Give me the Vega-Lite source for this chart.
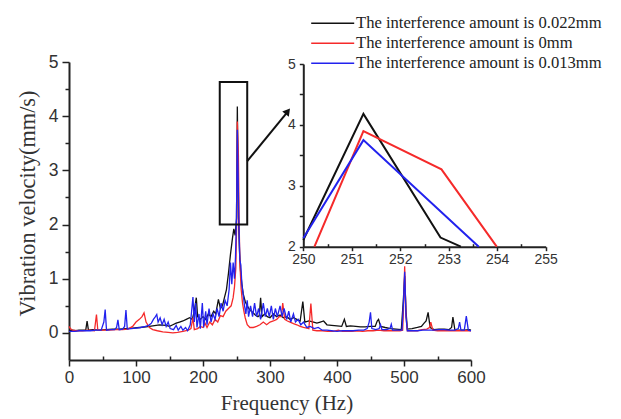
{
  "$schema": "https://vega.github.io/schema/vega-lite/v6.json",
  "width": 480,
  "height": 298,
  "autosize": {"type": "none"},
  "padding": {"left": 69, "top": 62, "right": 72, "bottom": 59},
  "background": "white",
  "config": {
    "view": {"stroke": null},
    "axis": {"domainColor": "#222", "domainWidth": 2, "tickColor": "#222", "tickWidth": 1.5, "labelColor": "#333", "labelFont": "Liberation Sans", "titleFont": "Liberation Serif", "titleColor": "#333", "titleFontWeight": "normal", "grid": false, "labelOverlap": false, "labelFlush": false}
  },
  "datasets": {
    "main": [
      {"s":"0.022mm","f":0,"v":0.04},{"s":"0.022mm","f":5,"v":0.05},{"s":"0.022mm","f":10,"v":0.04},{"s":"0.022mm","f":15,"v":0.05},{"s":"0.022mm","f":20,"v":0.05},{"s":"0.022mm","f":25,"v":0.05},{"s":"0.022mm","f":27,"v":0.22},{"s":"0.022mm","f":29,"v":0.05},{"s":"0.022mm","f":35,"v":0.06},{"s":"0.022mm","f":45,"v":0.05},{"s":"0.022mm","f":55,"v":0.06},{"s":"0.022mm","f":65,"v":0.07},{"s":"0.022mm","f":75,"v":0.07},{"s":"0.022mm","f":85,"v":0.08},{"s":"0.022mm","f":95,"v":0.09},{"s":"0.022mm","f":105,"v":0.1},{"s":"0.022mm","f":115,"v":0.11},{"s":"0.022mm","f":125,"v":0.13},{"s":"0.022mm","f":135,"v":0.15},{"s":"0.022mm","f":145,"v":0.14},{"s":"0.022mm","f":150,"v":0.12},{"s":"0.022mm","f":155,"v":0.15},{"s":"0.022mm","f":160,"v":0.18},{"s":"0.022mm","f":165,"v":0.2},{"s":"0.022mm","f":170,"v":0.22},{"s":"0.022mm","f":175,"v":0.25},{"s":"0.022mm","f":180,"v":0.28},{"s":"0.022mm","f":184,"v":0.25},{"s":"0.022mm","f":187,"v":0.4},{"s":"0.022mm","f":190,"v":0.65},{"s":"0.022mm","f":192,"v":0.3},{"s":"0.022mm","f":196,"v":0.25},{"s":"0.022mm","f":200,"v":0.3},{"s":"0.022mm","f":204,"v":0.25},{"s":"0.022mm","f":208,"v":0.35},{"s":"0.022mm","f":212,"v":0.3},{"s":"0.022mm","f":216,"v":0.4},{"s":"0.022mm","f":219,"v":0.35},{"s":"0.022mm","f":223,"v":0.62},{"s":"0.022mm","f":226,"v":0.45},{"s":"0.022mm","f":229,"v":0.5},{"s":"0.022mm","f":232,"v":0.65},{"s":"0.022mm","f":235,"v":0.8},{"s":"0.022mm","f":238,"v":1.1},{"s":"0.022mm","f":241,"v":1.45},{"s":"0.022mm","f":244,"v":1.75},{"s":"0.022mm","f":246,"v":1.92},{"s":"0.022mm","f":248,"v":1.8},{"s":"0.022mm","f":250,"v":2.11},{"s":"0.022mm","f":251.24,"v":4.18},{"s":"0.022mm","f":252.83,"v":2.15},{"s":"0.022mm","f":253.25,"v":2.0},{"s":"0.022mm","f":254.5,"v":1.5},{"s":"0.022mm","f":256,"v":1.15},{"s":"0.022mm","f":258,"v":0.9},{"s":"0.022mm","f":260,"v":0.72},{"s":"0.022mm","f":263,"v":0.58},{"s":"0.022mm","f":266,"v":0.5},{"s":"0.022mm","f":270,"v":0.42},{"s":"0.022mm","f":274,"v":0.38},{"s":"0.022mm","f":278,"v":0.33},{"s":"0.022mm","f":282,"v":0.3},{"s":"0.022mm","f":284,"v":0.32},{"s":"0.022mm","f":286,"v":0.65},{"s":"0.022mm","f":288,"v":0.3},{"s":"0.022mm","f":292,"v":0.35},{"s":"0.022mm","f":296,"v":0.3},{"s":"0.022mm","f":300,"v":0.28},{"s":"0.022mm","f":305,"v":0.35},{"s":"0.022mm","f":310,"v":0.3},{"s":"0.022mm","f":315,"v":0.33},{"s":"0.022mm","f":320,"v":0.28},{"s":"0.022mm","f":325,"v":0.3},{"s":"0.022mm","f":330,"v":0.25},{"s":"0.022mm","f":335,"v":0.28},{"s":"0.022mm","f":340,"v":0.25},{"s":"0.022mm","f":345,"v":0.22},{"s":"0.022mm","f":349,"v":0.58},{"s":"0.022mm","f":352,"v":0.2},{"s":"0.022mm","f":358,"v":0.22},{"s":"0.022mm","f":365,"v":0.2},{"s":"0.022mm","f":370,"v":0.18},{"s":"0.022mm","f":375,"v":0.2},{"s":"0.022mm","f":380,"v":0.22},{"s":"0.022mm","f":385,"v":0.15},{"s":"0.022mm","f":392,"v":0.14},{"s":"0.022mm","f":400,"v":0.13},{"s":"0.022mm","f":407,"v":0.12},{"s":"0.022mm","f":411,"v":0.25},{"s":"0.022mm","f":414,"v":0.12},{"s":"0.022mm","f":420,"v":0.13},{"s":"0.022mm","f":428,"v":0.12},{"s":"0.022mm","f":435,"v":0.11},{"s":"0.022mm","f":442,"v":0.11},{"s":"0.022mm","f":450,"v":0.12},{"s":"0.022mm","f":457,"v":0.12},{"s":"0.022mm","f":460,"v":0.22},{"s":"0.022mm","f":462,"v":0.25},{"s":"0.022mm","f":465,"v":0.12},{"s":"0.022mm","f":472,"v":0.1},{"s":"0.022mm","f":480,"v":0.08},{"s":"0.022mm","f":488,"v":0.07},{"s":"0.022mm","f":496,"v":0.06},{"s":"0.022mm","f":499,"v":0.6},{"s":"0.022mm","f":501,"v":1.05},{"s":"0.022mm","f":503,"v":0.4},{"s":"0.022mm","f":505,"v":0.07},{"s":"0.022mm","f":512,"v":0.08},{"s":"0.022mm","f":520,"v":0.1},{"s":"0.022mm","f":526,"v":0.12},{"s":"0.022mm","f":530,"v":0.18},{"s":"0.022mm","f":533,"v":0.22},{"s":"0.022mm","f":536,"v":0.38},{"s":"0.022mm","f":539,"v":0.1},{"s":"0.022mm","f":545,"v":0.06},{"s":"0.022mm","f":552,"v":0.07},{"s":"0.022mm","f":560,"v":0.07},{"s":"0.022mm","f":567,"v":0.06},{"s":"0.022mm","f":571,"v":0.1},{"s":"0.022mm","f":573,"v":0.29},{"s":"0.022mm","f":576,"v":0.05},{"s":"0.022mm","f":583,"v":0.05},{"s":"0.022mm","f":590,"v":0.05},{"s":"0.022mm","f":597,"v":0.06},{"s":"0.022mm","f":600,"v":0.05},
      {"s":"0mm","f":0,"v":0.12},{"s":"0mm","f":2,"v":0.08},{"s":"0mm","f":5,"v":0.05},{"s":"0mm","f":12,"v":0.04},{"s":"0mm","f":20,"v":0.04},{"s":"0mm","f":30,"v":0.05},{"s":"0mm","f":38,"v":0.04},{"s":"0mm","f":41,"v":0.34},{"s":"0mm","f":43,"v":0.05},{"s":"0mm","f":50,"v":0.05},{"s":"0mm","f":60,"v":0.05},{"s":"0mm","f":70,"v":0.06},{"s":"0mm","f":80,"v":0.06},{"s":"0mm","f":88,"v":0.07},{"s":"0mm","f":95,"v":0.12},{"s":"0mm","f":100,"v":0.2},{"s":"0mm","f":105,"v":0.25},{"s":"0mm","f":109,"v":0.3},{"s":"0mm","f":112,"v":0.37},{"s":"0mm","f":115,"v":0.2},{"s":"0mm","f":120,"v":0.1},{"s":"0mm","f":125,"v":0.06},{"s":"0mm","f":132,"v":0.04},{"s":"0mm","f":140,"v":0.02},{"s":"0mm","f":148,"v":0.01},{"s":"0mm","f":155,"v":0.0},{"s":"0mm","f":162,"v":0.01},{"s":"0mm","f":170,"v":0.03},{"s":"0mm","f":178,"v":0.05},{"s":"0mm","f":182,"v":0.08},{"s":"0mm","f":185,"v":0.28},{"s":"0mm","f":187,"v":0.06},{"s":"0mm","f":192,"v":0.08},{"s":"0mm","f":196,"v":0.12},{"s":"0mm","f":200,"v":0.1},{"s":"0mm","f":203,"v":0.18},{"s":"0mm","f":206,"v":0.1},{"s":"0mm","f":210,"v":0.2},{"s":"0mm","f":214,"v":0.15},{"s":"0mm","f":218,"v":0.25},{"s":"0mm","f":222,"v":0.2},{"s":"0mm","f":226,"v":0.32},{"s":"0mm","f":230,"v":0.3},{"s":"0mm","f":234,"v":0.4},{"s":"0mm","f":238,"v":0.45},{"s":"0mm","f":242,"v":0.5},{"s":"0mm","f":245,"v":0.65},{"s":"0mm","f":247,"v":0.85},{"s":"0mm","f":249,"v":1.2},{"s":"0mm","f":250.23,"v":2.0},{"s":"0mm","f":251.24,"v":3.9},{"s":"0mm","f":252.85,"v":3.27},{"s":"0mm","f":253.99,"v":2.0},{"s":"0mm","f":255,"v":1.3},{"s":"0mm","f":257,"v":0.8},{"s":"0mm","f":259,"v":0.55},{"s":"0mm","f":261,"v":0.4},{"s":"0mm","f":263,"v":0.28},{"s":"0mm","f":266,"v":0.15},{"s":"0mm","f":270,"v":0.1},{"s":"0mm","f":275,"v":0.1},{"s":"0mm","f":280,"v":0.12},{"s":"0mm","f":285,"v":0.15},{"s":"0mm","f":290,"v":0.2},{"s":"0mm","f":295,"v":0.15},{"s":"0mm","f":300,"v":0.2},{"s":"0mm","f":305,"v":0.22},{"s":"0mm","f":310,"v":0.25},{"s":"0mm","f":314,"v":0.3},{"s":"0mm","f":317,"v":0.3},{"s":"0mm","f":319,"v":0.55},{"s":"0mm","f":322,"v":0.25},{"s":"0mm","f":326,"v":0.22},{"s":"0mm","f":330,"v":0.2},{"s":"0mm","f":335,"v":0.17},{"s":"0mm","f":340,"v":0.15},{"s":"0mm","f":345,"v":0.12},{"s":"0mm","f":350,"v":0.1},{"s":"0mm","f":355,"v":0.09},{"s":"0mm","f":358,"v":0.08},{"s":"0mm","f":361,"v":0.54},{"s":"0mm","f":364,"v":0.05},{"s":"0mm","f":370,"v":0.04},{"s":"0mm","f":378,"v":0.04},{"s":"0mm","f":386,"v":0.03},{"s":"0mm","f":394,"v":0.03},{"s":"0mm","f":402,"v":0.05},{"s":"0mm","f":408,"v":0.03},{"s":"0mm","f":415,"v":0.03},{"s":"0mm","f":422,"v":0.03},{"s":"0mm","f":430,"v":0.04},{"s":"0mm","f":438,"v":0.03},{"s":"0mm","f":446,"v":0.04},{"s":"0mm","f":454,"v":0.04},{"s":"0mm","f":462,"v":0.05},{"s":"0mm","f":470,"v":0.04},{"s":"0mm","f":478,"v":0.04},{"s":"0mm","f":486,"v":0.04},{"s":"0mm","f":494,"v":0.04},{"s":"0mm","f":498,"v":0.05},{"s":"0mm","f":500,"v":0.7},{"s":"0mm","f":501,"v":1.23},{"s":"0mm","f":503,"v":0.3},{"s":"0mm","f":505,"v":0.04},{"s":"0mm","f":512,"v":0.04},{"s":"0mm","f":520,"v":0.04},{"s":"0mm","f":527,"v":0.06},{"s":"0mm","f":534,"v":0.07},{"s":"0mm","f":538,"v":0.1},{"s":"0mm","f":540,"v":0.2},{"s":"0mm","f":543,"v":0.05},{"s":"0mm","f":550,"v":0.04},{"s":"0mm","f":558,"v":0.04},{"s":"0mm","f":566,"v":0.04},{"s":"0mm","f":574,"v":0.04},{"s":"0mm","f":582,"v":0.04},{"s":"0mm","f":590,"v":0.04},{"s":"0mm","f":600,"v":0.04},
      {"s":"0.013mm","f":0,"v":0.03},{"s":"0.013mm","f":8,"v":0.03},{"s":"0.013mm","f":16,"v":0.04},{"s":"0.013mm","f":24,"v":0.04},{"s":"0.013mm","f":32,"v":0.04},{"s":"0.013mm","f":40,"v":0.05},{"s":"0.013mm","f":48,"v":0.05},{"s":"0.013mm","f":52,"v":0.2},{"s":"0.013mm","f":54,"v":0.43},{"s":"0.013mm","f":56,"v":0.05},{"s":"0.013mm","f":62,"v":0.06},{"s":"0.013mm","f":68,"v":0.06},{"s":"0.013mm","f":71,"v":0.1},{"s":"0.013mm","f":73,"v":0.24},{"s":"0.013mm","f":75,"v":0.06},{"s":"0.013mm","f":80,"v":0.07},{"s":"0.013mm","f":83,"v":0.12},{"s":"0.013mm","f":85,"v":0.42},{"s":"0.013mm","f":87,"v":0.07},{"s":"0.013mm","f":93,"v":0.08},{"s":"0.013mm","f":100,"v":0.09},{"s":"0.013mm","f":107,"v":0.1},{"s":"0.013mm","f":114,"v":0.12},{"s":"0.013mm","f":119,"v":0.14},{"s":"0.013mm","f":123,"v":0.18},{"s":"0.013mm","f":126,"v":0.25},{"s":"0.013mm","f":129,"v":0.3},{"s":"0.013mm","f":131,"v":0.34},{"s":"0.013mm","f":133,"v":0.2},{"s":"0.013mm","f":136,"v":0.28},{"s":"0.013mm","f":139,"v":0.15},{"s":"0.013mm","f":142,"v":0.25},{"s":"0.013mm","f":145,"v":0.12},{"s":"0.013mm","f":148,"v":0.2},{"s":"0.013mm","f":151,"v":0.08},{"s":"0.013mm","f":156,"v":0.06},{"s":"0.013mm","f":160,"v":0.14},{"s":"0.013mm","f":163,"v":0.05},{"s":"0.013mm","f":167,"v":0.12},{"s":"0.013mm","f":170,"v":0.05},{"s":"0.013mm","f":174,"v":0.1},{"s":"0.013mm","f":177,"v":0.04},{"s":"0.013mm","f":181,"v":0.15},{"s":"0.013mm","f":183,"v":0.4},{"s":"0.013mm","f":185,"v":0.66},{"s":"0.013mm","f":187,"v":0.2},{"s":"0.013mm","f":189,"v":0.55},{"s":"0.013mm","f":191,"v":0.1},{"s":"0.013mm","f":194,"v":0.35},{"s":"0.013mm","f":196,"v":0.08},{"s":"0.013mm","f":199,"v":0.55},{"s":"0.013mm","f":201,"v":0.1},{"s":"0.013mm","f":204,"v":0.4},{"s":"0.013mm","f":206,"v":0.15},{"s":"0.013mm","f":209,"v":0.45},{"s":"0.013mm","f":212,"v":0.2},{"s":"0.013mm","f":215,"v":0.35},{"s":"0.013mm","f":218,"v":0.25},{"s":"0.013mm","f":221,"v":0.45},{"s":"0.013mm","f":224,"v":0.3},{"s":"0.013mm","f":227,"v":0.55},{"s":"0.013mm","f":230,"v":0.4},{"s":"0.013mm","f":233,"v":0.6},{"s":"0.013mm","f":236,"v":0.5},{"s":"0.013mm","f":239,"v":0.8},{"s":"0.013mm","f":241,"v":1.3},{"s":"0.013mm","f":243,"v":0.9},{"s":"0.013mm","f":245,"v":1.3},{"s":"0.013mm","f":247,"v":1.0},{"s":"0.013mm","f":248.5,"v":1.4},{"s":"0.013mm","f":250,"v":2.14},{"s":"0.013mm","f":251.24,"v":3.75},{"s":"0.013mm","f":253.62,"v":2.0},{"s":"0.013mm","f":255,"v":1.35},{"s":"0.013mm","f":256.5,"v":1.25},{"s":"0.013mm","f":258,"v":0.9},{"s":"0.013mm","f":260,"v":0.7},{"s":"0.013mm","f":262,"v":0.5},{"s":"0.013mm","f":264,"v":0.35},{"s":"0.013mm","f":266,"v":0.6},{"s":"0.013mm","f":268,"v":0.3},{"s":"0.013mm","f":271,"v":0.5},{"s":"0.013mm","f":274,"v":0.3},{"s":"0.013mm","f":277,"v":0.55},{"s":"0.013mm","f":280,"v":0.3},{"s":"0.013mm","f":283,"v":0.45},{"s":"0.013mm","f":286,"v":0.25},{"s":"0.013mm","f":290,"v":0.55},{"s":"0.013mm","f":293,"v":0.3},{"s":"0.013mm","f":296,"v":0.45},{"s":"0.013mm","f":299,"v":0.3},{"s":"0.013mm","f":302,"v":0.5},{"s":"0.013mm","f":305,"v":0.25},{"s":"0.013mm","f":308,"v":0.45},{"s":"0.013mm","f":311,"v":0.3},{"s":"0.013mm","f":315,"v":0.5},{"s":"0.013mm","f":318,"v":0.3},{"s":"0.013mm","f":321,"v":0.45},{"s":"0.013mm","f":325,"v":0.25},{"s":"0.013mm","f":328,"v":0.4},{"s":"0.013mm","f":331,"v":0.2},{"s":"0.013mm","f":335,"v":0.35},{"s":"0.013mm","f":338,"v":0.2},{"s":"0.013mm","f":342,"v":0.25},{"s":"0.013mm","f":346,"v":0.15},{"s":"0.013mm","f":350,"v":0.2},{"s":"0.013mm","f":355,"v":0.1},{"s":"0.013mm","f":360,"v":0.12},{"s":"0.013mm","f":366,"v":0.08},{"s":"0.013mm","f":372,"v":0.1},{"s":"0.013mm","f":378,"v":0.05},{"s":"0.013mm","f":385,"v":0.05},{"s":"0.013mm","f":392,"v":0.04},{"s":"0.013mm","f":400,"v":0.03},{"s":"0.013mm","f":408,"v":0.04},{"s":"0.013mm","f":416,"v":0.04},{"s":"0.013mm","f":424,"v":0.04},{"s":"0.013mm","f":432,"v":0.05},{"s":"0.013mm","f":440,"v":0.05},{"s":"0.013mm","f":445,"v":0.08},{"s":"0.013mm","f":448,"v":0.2},{"s":"0.013mm","f":450,"v":0.38},{"s":"0.013mm","f":452,"v":0.08},{"s":"0.013mm","f":458,"v":0.06},{"s":"0.013mm","f":463,"v":0.08},{"s":"0.013mm","f":465,"v":0.15},{"s":"0.013mm","f":467,"v":0.06},{"s":"0.013mm","f":474,"v":0.06},{"s":"0.013mm","f":479,"v":0.08},{"s":"0.013mm","f":481,"v":0.16},{"s":"0.013mm","f":483,"v":0.05},{"s":"0.013mm","f":490,"v":0.05},{"s":"0.013mm","f":497,"v":0.05},{"s":"0.013mm","f":499,"v":0.5},{"s":"0.013mm","f":501,"v":1.13},{"s":"0.013mm","f":503,"v":0.3},{"s":"0.013mm","f":505,"v":0.04},{"s":"0.013mm","f":512,"v":0.04},{"s":"0.013mm","f":520,"v":0.04},{"s":"0.013mm","f":528,"v":0.05},{"s":"0.013mm","f":536,"v":0.05},{"s":"0.013mm","f":544,"v":0.05},{"s":"0.013mm","f":552,"v":0.06},{"s":"0.013mm","f":560,"v":0.06},{"s":"0.013mm","f":568,"v":0.05},{"s":"0.013mm","f":576,"v":0.05},{"s":"0.013mm","f":581,"v":0.08},{"s":"0.013mm","f":583,"v":0.2},{"s":"0.013mm","f":585,"v":0.05},{"s":"0.013mm","f":590,"v":0.05},{"s":"0.013mm","f":593,"v":0.31},{"s":"0.013mm","f":596,"v":0.05},{"s":"0.013mm","f":600,"v":0.04}
    ],
    "inset": [
      {"s":"0.022mm","f":250,"v":2.11},{"s":"0.022mm","f":251.24,"v":4.18},{"s":"0.022mm","f":252.83,"v":2.15},{"s":"0.022mm","f":253.25,"v":2.0},
      {"s":"0mm","f":250.23,"v":2.0},{"s":"0mm","f":251.24,"v":3.9},{"s":"0mm","f":252.85,"v":3.27},{"s":"0mm","f":253.99,"v":2.0},
      {"s":"0.013mm","f":250,"v":2.14},{"s":"0.013mm","f":251.24,"v":3.75},{"s":"0.013mm","f":253.62,"v":2.0}
    ],
    "box": [{"f":225,"f2":266,"v":2.0,"v2":4.63}],
    "arrow": [{"f":266,"f2":325,"v":3.17,"v2":4.06}],
    "head": [{"f":326.5,"v":4.09}]
  },
  "layer": [
    {
      "data": {"name": "main"},
      "mark": {"type": "line", "strokeWidth": 1.3},
      "encoding": {
        "x": {"field": "f", "type": "quantitative", "title": "Frequency (Hz)",
          "scale": {"domain": [0, 600], "range": [0, 402], "nice": false, "zero": false},
          "axis": {"values": [0,50,100,150,200,250,300,350,400,450,500,550,600], "format": ".0f",
            "labelExpr": "datum.value % 100 === 0 ? datum.label : ''",
            "tickSize": {"condition": {"test": "datum.value % 100 === 0", "value": 6}, "value": -4},
            "labelFontSize": 17, "labelPadding": 3, "titleFontSize": 21, "titleX": 217.5, "titleY": 49, "titleAlign": "center", "titleBaseline": "alphabetic"}},
        "y": {"field": "v", "type": "quantitative", "title": "Vibration velocity(mm/s)",
          "scale": {"domain": [-0.5, 5], "nice": false, "zero": false},
          "axis": {"values": [0,0.5,1,1.5,2,2.5,3,3.5,4,4.5,5], "format": ".1f",
            "labelExpr": "abs(datum.value - round(datum.value)) < 0.001 ? format(datum.value, '.0f') : ''",
            "tickSize": {"condition": {"test": "abs(datum.value - round(datum.value)) < 0.001", "value": 7}, "value": 4},
            "labelFontSize": 17.5, "labelPadding": 4, "titleFontSize": 22.3, "titlePadding": 9, "titleY": 141, "titleAlign": "center"}},
        "color": {"field": "s", "type": "nominal",
          "scale": {"domain": ["0.022mm", "0mm", "0.013mm"], "range": ["#111111", "#f52a2a", "#2222ee"]},
          "legend": {"orient": "none", "legendX": 255.4, "legendY": -47, "title": null, "direction": "vertical",
            "symbolType": "M-4.3,0L4.3,0", "symbolSize": 100, "symbolStrokeWidth": 1.5,
            "labelFont": "Liberation Serif", "labelFontSize": 16.6, "labelColor": "#222", "labelOffset": 15, "rowPadding": 3, "labelLimit": 0,
            "labelExpr": "'The interference amount is ' + datum.label"}}
      }
    },
    {
      "data": {"name": "box"},
      "mark": {"type": "rect", "fillOpacity": 0, "stroke": "#111", "strokeWidth": 2},
      "encoding": {
        "x": {"field": "f", "type": "quantitative", "scale": {"domain": [0, 600], "range": [0, 402], "nice": false, "zero": false}, "axis": null},
        "x2": {"field": "f2"},
        "y": {"field": "v", "type": "quantitative", "scale": {"domain": [-0.5, 5], "nice": false, "zero": false}, "axis": null},
        "y2": {"field": "v2"}
      }
    },
    {
      "data": {"name": "arrow"},
      "mark": {"type": "rule", "strokeWidth": 2, "color": "#111"},
      "encoding": {
        "x": {"field": "f", "type": "quantitative", "scale": {"domain": [0, 600], "range": [0, 402], "nice": false, "zero": false}, "axis": null},
        "x2": {"field": "f2"},
        "y": {"field": "v", "type": "quantitative", "scale": {"domain": [-0.5, 5], "nice": false, "zero": false}, "axis": null},
        "y2": {"field": "v2"}
      }
    },
    {
      "data": {"name": "head"},
      "mark": {"type": "point", "shape": "triangle-up", "filled": true, "color": "#111", "opacity": 1, "size": 70, "angle": 38},
      "encoding": {
        "x": {"field": "f", "type": "quantitative", "scale": {"domain": [0, 600], "range": [0, 402], "nice": false, "zero": false}, "axis": null},
        "y": {"field": "v", "type": "quantitative", "scale": {"domain": [-0.5, 5], "nice": false, "zero": false}, "axis": null}
      }
    },
    {
      "data": {"name": "inset"},
      "mark": {"type": "line", "strokeWidth": 2},
      "encoding": {
        "x": {"field": "f", "type": "quantitative",
          "scale": {"domain": [250, 255], "range": [234.3, 476.7], "nice": false, "zero": false},
          "axis": {"orient": "bottom", "offset": -113.3, "title": null, "format": ".1f",
            "values": [250,250.5,251,251.5,252,252.5,253,253.5,254,254.5,255],
            "labelExpr": "abs(datum.value - round(datum.value)) < 0.001 ? format(datum.value, '.0f') : ''",
            "tickSize": {"condition": {"test": "abs(datum.value - round(datum.value)) < 0.001", "value": 4}, "value": -3},
            "labelFontSize": 14, "labelPadding": 2}},
        "y": {"field": "v", "type": "quantitative",
          "scale": {"domain": [2, 5], "range": [184.7, 2], "nice": false, "zero": false},
          "axis": {"orient": "right", "offset": -245.7, "title": null, "format": ".1f",
            "values": [2,2.5,3,3.5,4,4.5,5],
            "labelExpr": "abs(datum.value - round(datum.value)) < 0.001 ? format(datum.value, '.0f') : ''",
            "tickSize": -4, "labelAlign": "right", "labelPadding": -4,
            "labelFontSize": 14}},
        "color": {"field": "s", "type": "nominal", "legend": null}
      }
    }
  ],
  "resolve": {"scale": {"x": "independent", "y": "independent"}}
}
